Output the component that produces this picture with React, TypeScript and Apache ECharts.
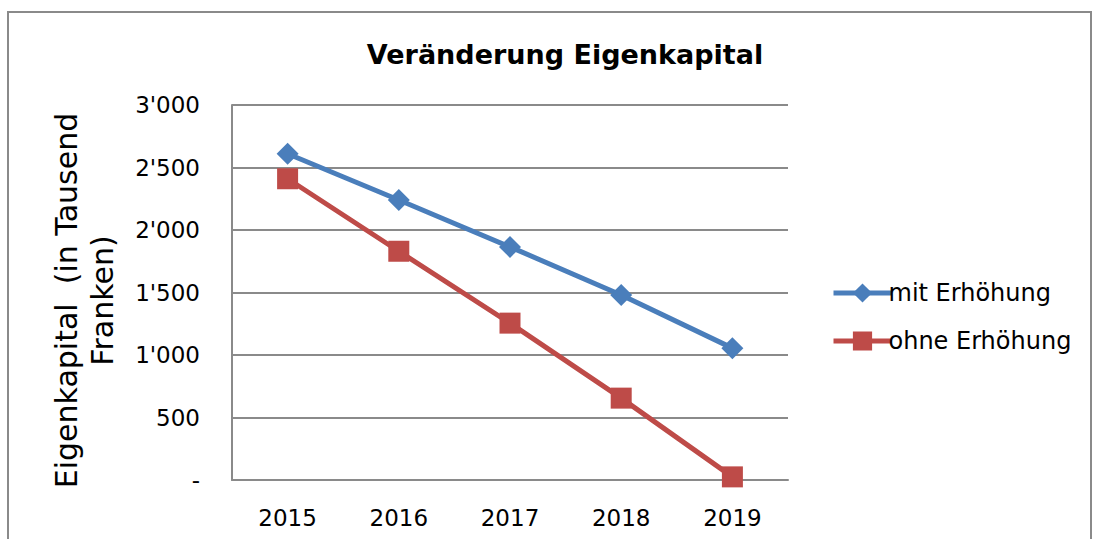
import React, { useEffect, useRef } from "react";
import * as echarts from "echarts";

const categories = ["2015", "2016", "2017", "2018", "2019"];
const mitErhoehung = [2610, 2240, 1865, 1480, 1055];
const ohneErhoehung = [2410, 1830, 1255, 655, 25];
const seriesNames = ["mit Erhöhung", "ohne Erhöhung"];
const FONT = "'DejaVu Sans', sans-serif";

function fmt(v: number): string {
  if (v === 0) return "-";
  const s = Math.round(v).toString();
  return s.replace(/\B(?=(\d{3})+(?!\d))/g, "'");
}

export default function App() {
  const ref = useRef<HTMLDivElement>(null);
  useEffect(() => {
    if (!ref.current) return;
    const chart = echarts.init(ref.current, undefined, { renderer: "svg" });
    chart.setOption({
      animation: false,
      backgroundColor: "#ffffff",
      title: {
        text: "Veränderung Eigenkapital",
        left: 560,
        top: 36,
        textAlign: "center",
        textStyle: { fontFamily: FONT, fontSize: 27, fontWeight: "bold", color: "#000" },
      },
      graphic: [
        {
          type: "rect",
          shape: { x: 8, y: 12, width: 1083, height: 560 },
          style: { fill: "none", stroke: "#8a8a8a", lineWidth: 2 },
          silent: true,
        },
      ],
      legend: {
        orient: "vertical",
        left: 826,
        top: 276,
        itemWidth: 58,
        itemHeight: 24,
        itemGap: 24,
        data: seriesNames,
        lineStyle: { width: 5 },
        textStyle: { fontFamily: FONT, fontSize: 24, color: "#000", padding: [0, 0, 0, -8] },
      },
      grid: { left: 232, right: 308, top: 105, bottom: 59 },
      xAxis: {
        type: "category",
        data: categories,
        boundaryGap: true,
        axisLine: { show: true, lineStyle: { color: "#8a8a8a", width: 2 } },
        axisTick: { show: false },
        axisLabel: { fontFamily: FONT, fontSize: 23, color: "#000", margin: 26 },
      },
      yAxis: {
        type: "value",
        min: 0,
        max: 3000,
        interval: 500,
        name: "Eigenkapital  (in Tausend\nFranken)",
        nameLocation: "middle",
        nameGap: 112,
        nameRotate: 90,
        nameTextStyle: {
          fontFamily: FONT,
          fontSize: 30,
          color: "#000",
          lineHeight: 36,
          padding: [0, 16, 0, 0],
        },
        axisLine: { show: true, lineStyle: { color: "#8a8a8a", width: 2 } },
        axisTick: { show: false },
        splitLine: { show: true, lineStyle: { color: "#8a8a8a", width: 2 } },
        axisLabel: {
          fontFamily: FONT,
          fontSize: 23,
          color: "#000",
          margin: 32,
          formatter: (v: number) => fmt(v),
        },
      },
      series: [
        {
          name: seriesNames[0],
          type: "line",
          data: mitErhoehung,
          symbol: "diamond",
          symbolSize: 22,
          lineStyle: { color: "#4a7ebb", width: 5 },
          itemStyle: { color: "#4a7ebb" },
        },
        {
          name: seriesNames[1],
          type: "line",
          data: ohneErhoehung,
          symbol: "rect",
          symbolSize: 21,
          lineStyle: { color: "#be4b48", width: 5 },
          itemStyle: { color: "#be4b48" },
        },
      ],
    });
    return () => chart.dispose();
  }, []);
  return (
    <div
      ref={ref}
      style={{ position: "fixed", left: 0, top: 0, width: 1096, height: 539 }}
    />
  );
}
